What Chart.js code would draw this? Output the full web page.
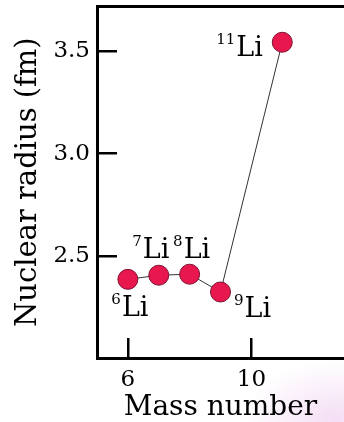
<!DOCTYPE html>
<html>
<head>
  <title>Nuclear radius of lithium isotopes</title>
  <script src="https://cdn.jsdelivr.net/npm/chart.js@4.4.1/dist/chart.umd.min.js"></script>
  <style>
    body {
      margin: 0;
      background: radial-gradient(ellipse 90px 60px at 335px 420px, #f4def4, #ffffff);
    }
    #wrap { width: 344px; height: 422px; }
  </style>
</head>
<body>
  <div id="wrap"><canvas id="radius-chart"></canvas></div>

  <script>
    // mass numbers of the isotopes and their radii (fm)
    const massNumber = [6, 7, 8, 9, 11];
    const radiusFm = [2.385, 2.405, 2.41, 2.323, 3.545];
    const isotopeSup = ['6', '7', '8', '9', '11'];
    const element = 'Li';
    const xTicks = [6, 10];
    const yTicks = [2.5, 3.0, 3.5];

    // label placement relative to each point: [dx, dy to baseline]
    const labelOffset = [[-6, 37], [-16, -17], [-6, -16], [24, 25], [-46, 14]];

    const serif = '"DejaVu Serif", serif';
    const ink = '#000';

    // draws "⁶Li" style labels next to the points
    const isotopeLabels = {
      id: 'isotopeLabels',
      afterDatasetsDraw(chart) {
        const ctx = chart.ctx;
        const points = chart.getDatasetMeta(0).data;
        ctx.save();
        ctx.fillStyle = ink;
        ctx.textBaseline = 'alphabetic';
        points.forEach((pt, i) => {
          const x = pt.x + labelOffset[i][0];
          const y = pt.y + labelOffset[i][1];
          ctx.font = '27px ' + serif;
          ctx.textAlign = 'left';
          ctx.fillText(element, x, y);
          ctx.font = '15px ' + serif;
          ctx.textAlign = 'right';
          ctx.fillText(isotopeSup[i], x - 1, y - 12);
        });
        ctx.restore();
      }
    };

    new Chart(document.getElementById('radius-chart'), {
      type: 'scatter',
      data: {
        datasets: [{
          data: massNumber.map((m, i) => ({ x: m, y: radiusFm[i] })),
          showLine: true,
          borderColor: '#333',
          borderWidth: 1,
          pointRadius: 10,
          pointBackgroundColor: '#e8184f',
          pointBorderColor: '#7d1030',
          pointBorderWidth: 1
        }]
      },
      options: {
        responsive: true,
        maintainAspectRatio: false,
        animation: false,
        layout: { padding: 0, autoPadding: false },
        plugins: {
          legend: { display: false },
          tooltip: { enabled: false }
        },
        scales: {
          x: {
            type: 'linear',
            position: 'bottom',
            min: 5,
            max: 13,
            afterBuildTicks: s => { s.ticks = xTicks.map(v => ({ value: v })); },
            afterFit: s => { s.height = 64; s.paddingLeft = 0; s.paddingRight = 0; },
            ticks: { font: { family: serif, size: 23 }, color: ink, padding: 28 },
            grid: { drawOnChartArea: false, tickLength: -20, color: ink, lineWidth: 2.5 },
            border: { color: ink, width: 3 },
            title: {
              display: true,
              text: 'Mass number',
              color: ink,
              font: { family: serif, size: 28, lineHeight: 1 },
              padding: 0
            }
          },
          x2: {
            type: 'linear',
            position: 'top',
            min: 5,
            max: 13,
            ticks: { display: false },
            grid: { drawOnChartArea: false, drawTicks: false },
            border: { color: ink, width: 3 },
            afterFit: s => { s.height = 6.5; }
          },
          y: {
            type: 'linear',
            position: 'left',
            min: 2,
            max: 3.72,
            afterBuildTicks: s => { s.ticks = yTicks.map(v => ({ value: v })); },
            // inward ticks: drop the label overhang Chart.js reserves above/below
            afterFit: s => { s.width = 97; s.paddingTop = 0; s.paddingBottom = 0; },
            ticks: {
              font: { family: serif, size: 23 },
              color: ink,
              padding: 27,
              callback: v => v.toFixed(1)
            },
            grid: { drawOnChartArea: false, tickLength: -20, color: ink, lineWidth: 2.5 },
            border: { color: ink, width: 3 },
            title: {
              display: true,
              text: 'Nuclear radius (fm)',
              color: ink,
              font: { family: serif, size: 29, lineHeight: 1 },
              padding: { top: 14, bottom: 0 }
            }
          }
        }
      },
      plugins: [isotopeLabels]
    });
  </script>
</body>
</html>
